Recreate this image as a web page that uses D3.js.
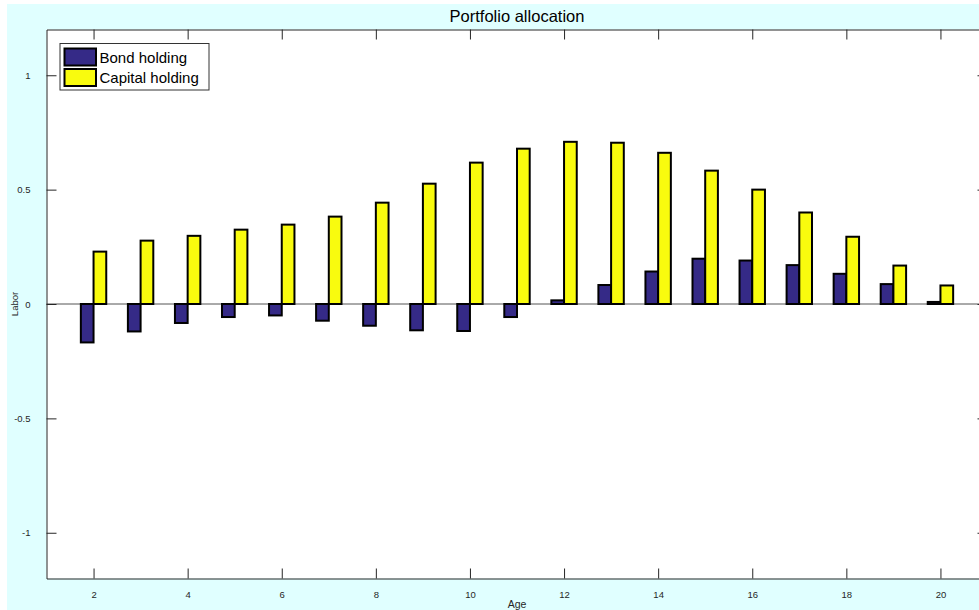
<!DOCTYPE html>
<html>
<head>
<meta charset="utf-8">
<script src="https://cdn.jsdelivr.net/npm/d3@7"></script>
<style>
  body { margin: 0; background: #fff; }
  svg { display: block; font-family: "Liberation Sans", Arial, sans-serif; }
</style>
</head>
<body>
<div id="chart"></div>
<script>
// Datos
const ages = [2, 3, 4, 5, 6, 7, 8, 9, 10, 11, 12, 13, 14, 15, 16, 17, 18, 19, 20];
const bondHolding = [-0.168, -0.12, -0.083, -0.057, -0.05, -0.073, -0.095, -0.115, -0.118, -0.057,
                     0.016, 0.083, 0.142, 0.198, 0.19, 0.17, 0.132, 0.087, 0.009];
const capitalHolding = [0.229, 0.277, 0.298, 0.325, 0.347, 0.382, 0.443, 0.526, 0.618, 0.679,
                        0.709, 0.705, 0.661, 0.583, 0.5, 0.4, 0.294, 0.168, 0.081];
const xTicks = [2, 4, 6, 8, 10, 12, 14, 16, 18, 20];
const yTicks = [-1, -0.5, 0, 0.5, 1];
const seriesNames = ['Bond holding', 'Capital holding'];

//Colores fijos
const COLOR_BOND = '#352A87',
COLOR_CAPITAL = '#F9FB0E',
COLOR_AXIS = '#262626';

const W = 979, H = 610;
let svg = d3.select('#chart').append('svg')
    .attr('width', W)
    .attr('height', H);

// Fondo de la figura
svg.append('rect')
    .attr('x', 7).attr('y', 4)
    .attr('width', W - 7).attr('height', H - 4)
    .attr('fill', '#E0FFFF');

let x = d3.scaleLinear().domain([1, 21]).range([46.5, 987.5]);
let y = d3.scaleLinear().domain([-1.2, 1.2]).range([578.5, 29.5]);

// Área de ejes
svg.append('rect')
    .attr('x', x(1)).attr('y', y(1.2))
    .attr('width', x(21) - x(1)).attr('height', y(-1.2) - y(1.2))
    .attr('fill', '#fff');

// Línea de cero
svg.append('line')
    .attr('x1', x(1)).attr('x2', x(21))
    .attr('y1', y(0)).attr('y2', y(0))
    .attr('stroke', '#555').attr('stroke-width', 1);

// Barras
const barW = 0.27;
let data = ages.map(function(a, i) { return { age: a, bond: bondHolding[i], capital: capitalHolding[i] }; });

svg.selectAll('.bond')
    .data(data)
    .enter()
    .append('rect')
    .attr('class', 'bond')
    .attr('x', function(d) { return x(d.age - barW); })
    .attr('y', function(d) { return y(Math.max(0, d.bond)); })
    .attr('width', x(1 + barW) - x(1))
    .attr('height', function(d) { return Math.abs(y(d.bond) - y(0)); })
    .attr('fill', COLOR_BOND)
    .attr('stroke', '#000')
    .attr('stroke-width', 2);

svg.selectAll('.capital')
    .data(data)
    .enter()
    .append('rect')
    .attr('class', 'capital')
    .attr('x', function(d) { return x(d.age); })
    .attr('y', function(d) { return y(Math.max(0, d.capital)); })
    .attr('width', x(1 + barW) - x(1))
    .attr('height', function(d) { return Math.abs(y(d.capital) - y(0)); })
    .attr('fill', COLOR_CAPITAL)
    .attr('stroke', '#000')
    .attr('stroke-width', 2);

// Ejes (ticks hacia dentro)
let axisG = svg.append('g');
axisG.append('g')
    .attr('transform', 'translate(0,' + y(-1.2) + ')')
    .call(d3.axisBottom(x).tickValues(xTicks).tickSizeInner(-10).tickSizeOuter(0).tickPadding(13)
        .tickFormat(function(d) { return String(d); }));
axisG.append('g')
    .attr('transform', 'translate(0,' + y(1.2) + ')')
    .call(d3.axisTop(x).tickValues(xTicks).tickSizeInner(-10).tickSizeOuter(0).tickFormat(''));
axisG.append('g')
    .attr('transform', 'translate(' + x(1) + ',0)')
    .call(d3.axisLeft(y).tickValues(yTicks).tickSizeInner(-10).tickSizeOuter(0).tickPadding(16)
        .tickFormat(function(d) { return String(d); }));
axisG.append('g')
    .attr('transform', 'translate(' + x(21) + ',0)')
    .call(d3.axisRight(y).tickValues(yTicks).tickSizeInner(-10).tickSizeOuter(0).tickFormat(''));

axisG.selectAll('.domain').attr('stroke', COLOR_AXIS);
axisG.selectAll('.tick line').attr('stroke', COLOR_AXIS);
axisG.selectAll('.tick text')
    .attr('fill', COLOR_AXIS)
    .style('font-size', '9.5px')
    .style('font-family', '"Liberation Sans", Arial, sans-serif');

// Título y etiquetas
svg.append('text')
    .attr('x', (x(1) + x(21)) / 2).attr('y', 22)
    .attr('text-anchor', 'middle')
    .style('font-size', '16.5px')
    .attr('fill', '#000')
    .text('Portfolio allocation');

svg.append('text')
    .attr('x', (x(1) + x(21)) / 2).attr('y', 608)
    .attr('text-anchor', 'middle')
    .style('font-size', '10.5px')
    .attr('fill', COLOR_AXIS)
    .text('Age');

svg.append('text')
    .attr('transform', 'translate(18,' + y(0) + ') rotate(-90)')
    .attr('text-anchor', 'middle')
    .style('font-size', '9.5px')
    .attr('fill', COLOR_AXIS)
    .text('Labor');

// Leyenda
let legend = svg.append('g');
legend.append('rect')
    .attr('x', 60).attr('y', 43.5)
    .attr('width', 149).attr('height', 46.5)
    .attr('fill', '#fff')
    .attr('stroke', '#333').attr('stroke-width', 1);

const legendColors = [COLOR_BOND, COLOR_CAPITAL];
seriesNames.forEach(function(name, i) {
    legend.append('rect')
        .attr('x', 64.5).attr('y', 48.5 + i * 20.5)
        .attr('width', 31.5).attr('height', 17)
        .attr('fill', legendColors[i])
        .attr('stroke', '#000').attr('stroke-width', 2);
    legend.append('text')
        .attr('x', 99.5).attr('y', 62.5 + i * 20.5)
        .style('font-size', '15px')
        .attr('fill', '#000')
        .text(name);
});
</script>
</body>
</html>
